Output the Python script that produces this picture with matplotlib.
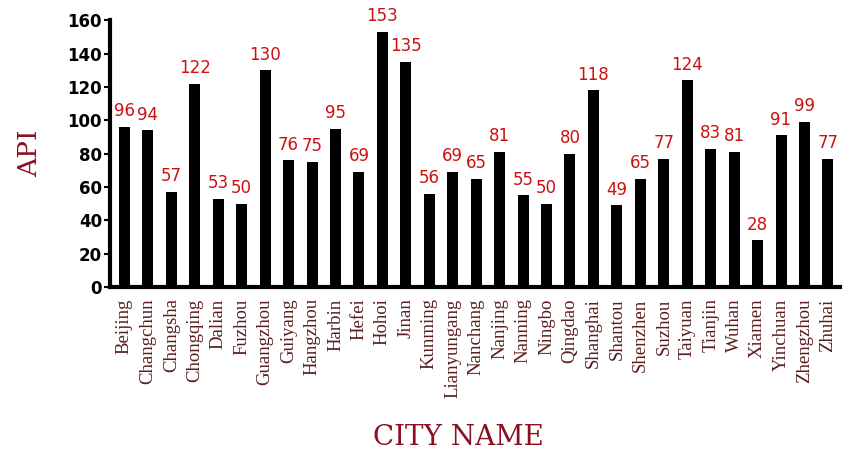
import matplotlib
matplotlib.use("Agg")
import matplotlib.pyplot as plt
import numpy as np

# data
cities = ["Beijing", "Changchun", "Changsha", "Chongqing", "Dalian", "Fuzhou",
          "Guangzhou", "Guiyang", "Hangzhou", "Harbin", "Hefei", "Hohoi",
          "Jinan", "Kunming", "Lianyungang", "Nanchang", "Nanjing", "Nanning",
          "Ningbo", "Qingdao", "Shanghai", "Shantou", "Shenzhen", "Suzhou",
          "Taiyuan", "Tianjin", "Wuhan", "Xiamen", "Yinchuan", "Zhengzhou",
          "Zhuhai"]
api = [96, 94, 57, 122, 53, 50, 130, 76, 75, 95, 69, 153, 135, 56, 69, 65,
       81, 55, 50, 80, 118, 49, 65, 77, 124, 83, 81, 28, 91, 99, 77]
y_ticks = [0, 20, 40, 60, 80, 100, 120, 140, 160]

fig = plt.figure(figsize=(8.49, 4.58), dpi=100)
ax = fig.add_axes([0.13, 0.373, 0.859, 0.583])

x = np.arange(len(cities))
ax.bar(x, api, width=0.47, color="black")

for xi, v in zip(x, api):
    ax.text(xi, v + 4, str(v), ha="center", va="bottom", color="#cc1111",
            fontsize=12, family="DejaVu Sans")

ax.set_xlim(-0.6, len(cities) - 0.5)
ax.set_ylim(0, 160)
ax.set_yticks(y_ticks)
ax.set_yticklabels([str(t) for t in y_ticks], fontsize=12, fontweight="bold",
                   family="DejaVu Sans")
ax.set_xticks(x)
ax.set_xticklabels(cities, rotation=90, fontsize=13.5, family="Liberation Serif",
                   color="#5a1e1e")
ax.tick_params(axis="x", length=0, pad=8)
ax.tick_params(axis="y", length=4, width=1.5, pad=2)

for side in ["top", "right"]:
    ax.spines[side].set_visible(False)
ax.spines["left"].set_linewidth(3)
ax.spines["bottom"].set_linewidth(3)

ax.set_ylabel("API", fontsize=19, color="#8b1020", family="DejaVu Serif",
              labelpad=18)
fig.text(0.54, 0.015, "CITY NAME", ha="center", va="bottom", fontsize=20,
         color="#8b1020", family="DejaVu Serif")

fig.savefig("out.png", dpi=100)
